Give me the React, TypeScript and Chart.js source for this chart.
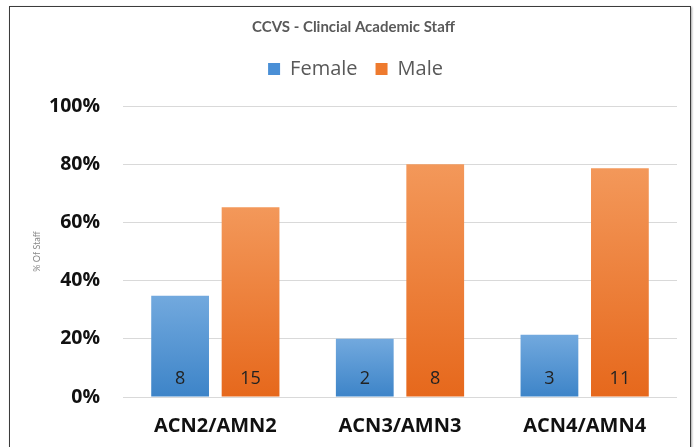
import React, { useEffect, useRef } from "react";
import { Chart, registerables } from "chart.js";

Chart.register(...registerables);

const categories = ["ACN2/AMN2", "ACN3/AMN3", "ACN4/AMN4"];
const seriesNames = ["Female", "Male"];
const femalePct = [34.8, 20.0, 21.4];
const malePct = [65.2, 80.0, 78.6];
const femaleCounts = [8, 2, 3];
const maleCounts = [15, 8, 11];
const yTickValues = [0, 20, 40, 60, 80, 100];

const FONT = "'Open Sans', sans-serif";
const TITLE_FONT = "Lato, 'Open Sans', sans-serif";
const legendColors = ["#4a8fd6", "#ee7a2e"];

function barGradient(topColor: string, bottomColor: string) {
  return (ctx: any) => {
    const chart = ctx.chart;
    const y = chart.scales && chart.scales.y;
    if (!chart.chartArea || !y || ctx.raw == null) return bottomColor;
    const yTop = y.getPixelForValue(ctx.raw);
    const yBot = y.getPixelForValue(0);
    if (!isFinite(yTop) || !isFinite(yBot) || yTop === yBot) return bottomColor;
    const g = chart.ctx.createLinearGradient(0, yTop, 0, yBot);
    g.addColorStop(0, topColor);
    g.addColorStop(1, bottomColor);
    return g;
  };
}

const countLabelsPlugin = {
  id: "countLabels",
  afterDatasetsDraw(chart: any) {
    const counts = [femaleCounts, maleCounts];
    const ctx = chart.ctx;
    ctx.save();
    ctx.font = `18px ${FONT}`;
    ctx.fillStyle = "#222222";
    ctx.textAlign = "center";
    ctx.textBaseline = "middle";
    chart.data.datasets.forEach((_ds: any, di: number) => {
      const meta = chart.getDatasetMeta(di);
      meta.data.forEach((bar: any, i: number) => {
        ctx.fillText(String(counts[di][i]), bar.x, bar.base - 18);
      });
    });
    ctx.restore();
  },
};

const legendHeightPlugin = {
  id: "legendHeight",
  beforeInit(chart: any) {
    const legend = chart.legend;
    if (!legend) return;
    const fit = legend.fit;
    legend.fit = function () {
      fit.call(this);
      this.height = 65;
    };
  },
  afterLayout(chart: any) {
    if (chart.legend) {
      chart.legend.left += 7;
      chart.legend.right += 7;
    }
    if (chart.titleBlock) {
      chart.titleBlock.left += 5;
      chart.titleBlock.right += 5;
    }
  },
};

export default function App() {
  const ref = useRef<HTMLCanvasElement | null>(null);

  useEffect(() => {
    if (!ref.current) return;
    const chart = new Chart(ref.current, {
      type: "bar",
      data: {
        labels: categories,
        datasets: [
          {
            label: seriesNames[0],
            data: femalePct,
            backgroundColor: barGradient("#72a9de", "#3d84c8"),
            borderWidth: 0,
            categoryPercentage: 0.763,
            barPercentage: 0.82,
          },
          {
            label: seriesNames[1],
            data: malePct,
            backgroundColor: barGradient("#f3985a", "#e6681c"),
            borderWidth: 0,
            categoryPercentage: 0.763,
            barPercentage: 0.82,
          },
        ],
      },
      options: {
        animation: false,
        responsive: false,
        maintainAspectRatio: false,
        layout: { padding: { left: 20, right: 20, top: 0, bottom: 0 } },
        plugins: {
          title: {
            display: true,
            text: "CCVS - Clincial Academic Staff",
            color: "#595959",
            font: { family: TITLE_FONT, size: 15, weight: "bold" },
            padding: { top: 18, bottom: 5 },
          },
          legend: {
            display: true,
            position: "top",
            labels: {
              color: "#595959",
              font: { family: FONT, size: 20 },
              boxWidth: 12,
              boxHeight: 12,
              padding: 18,
              generateLabels: () =>
                seriesNames.map((name, i) => ({
                  text: name,
                  fillStyle: legendColors[i],
                  strokeStyle: legendColors[i],
                  lineWidth: 0,
                  hidden: false,
                  datasetIndex: i,
                  fontColor: "#595959",
                })),
            },
          },
          tooltip: { enabled: false },
        },
        scales: {
          x: {
            grid: { display: false, drawTicks: false },
            border: { display: false },
            ticks: {
              color: "#111111",
              font: { family: FONT, size: 20, weight: "bold" },
              padding: 17,
              maxRotation: 0,
            },
            afterFit: (s: any) => {
              s.height = 50;
            },
          },
          y: {
            min: 0,
            max: 100,
            afterBuildTicks: (s: any) => {
              s.ticks = yTickValues.map((v) => ({ value: v }));
            },
            grid: { color: "#d9d9d9", lineWidth: 1, drawTicks: false },
            border: { display: false },
            ticks: {
              color: "#111111",
              font: { family: FONT, size: 19.5, weight: "bold" },
              padding: 23,
              callback: (v: any) => `${v}%`,
            },
            title: {
              display: true,
              text: "% Of Staff",
              color: "#8a8a8a",
              font: { family: TITLE_FONT, size: 9 },
              padding: { top: 11.6, bottom: 0 },
            },
            afterFit: (s: any) => {
              s.width = 103;
            },
          },
        },
      },
      plugins: [countLabelsPlugin, legendHeightPlugin],
    } as any);
    return () => chart.destroy();
  }, []);

  return (
    <div style={{ position: "fixed", left: 0, top: 0, width: 697, height: 447, background: "#fff" }}>
      <canvas ref={ref} width={697} height={447} style={{ display: "block", width: 697, height: 447 }} />
      <div
        style={{
          position: "absolute",
          left: 9,
          top: 6,
          width: 682,
          height: 470,
          border: "1.5px solid #3c3c3c",
          boxShadow: "1px 1px 2px rgba(0,0,0,0.35)",
          pointerEvents: "none",
          boxSizing: "border-box",
        }}
      />
    </div>
  );
}
